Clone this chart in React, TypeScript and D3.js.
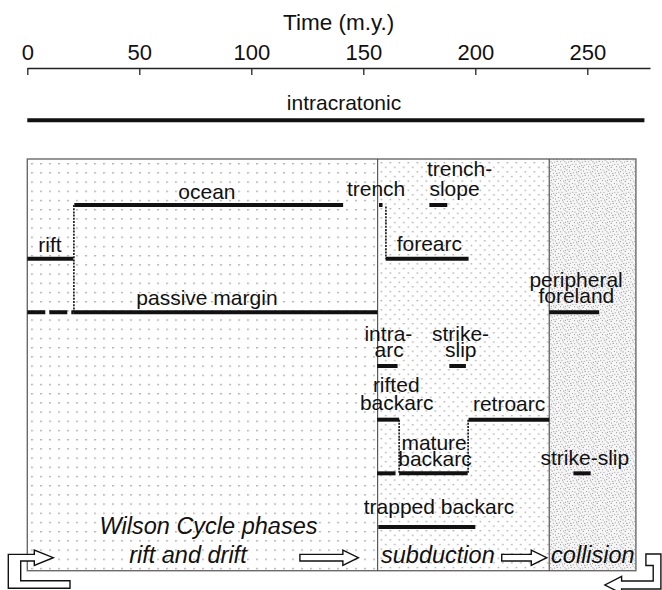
import React, { useRef, useEffect } from "react";
import * as d3 from "d3";

const FONT = "'Liberation Sans', Arial, Helvetica, sans-serif";

// time axis (m.y.)
const tickValues = [0, 50, 100, 150, 200, 250];

// Wilson cycle phase boundaries and names
const phaseBounds = [0, 156.4, 233, 271.7];
const phaseNames = ["rift and drift", "subduction", "collision"];

// tectonic settings: [name, start, end, row, dashed]
const segments: [string, number, number, number, boolean][] = [
  ["intracratonic", 0, 275.5, -1.58, false],
  ["ocean", 21, 141, 0, false],
  ["trench", 157, 158.6, 0, false],
  ["trench-slope", 179.5, 187.5, 0, false],
  ["rift", 0, 20.5, 1, false],
  ["forearc", 160, 197, 1, false],
  ["passive margin (early)", 0, 20.5, 2, true],
  ["passive margin", 20.5, 156.4, 2, false],
  ["peripheral foreland", 233, 255.3, 2, false],
  ["intra-arc", 156.2, 165.3, 3, false],
  ["strike-slip", 188.4, 195.8, 3, false],
  ["rifted backarc", 156.2, 166, 4, false],
  ["retroarc", 197, 233, 4, false],
  ["mature backarc (early)", 156.2, 164.4, 5, false],
  ["mature backarc", 166, 196.6, 5, false],
  ["strike-slip (collision)", 243.8, 251.5, 5, false],
  ["trapped backarc", 156.7, 200, 6, false],
];

// dotted transitions: [time, fromRow, toRow]
const transitions: [number, number, number][] = [
  [20.8, 0, 2],
  [160.1, 0.03, 1],
  [166, 4, 5],
  [196.8, 4, 5],
];

// labels: [text, time, baseline px, anchor]
const labels: [string, number, number, string][] = [
  ["intracratonic", 141.4, 110, "middle"],
  ["ocean", 80.2, 199, "middle"],
  ["trench", 155.7, 195.5, "middle"],
  ["trench-", 178.4, 176, "start"],
  ["slope", 179.5, 195.5, "start"],
  ["rift", 10.1, 251.5, "middle"],
  ["forearc", 164.9, 251, "start"],
  ["passive margin", 80.2, 305, "middle"],
  ["peripheral", 245, 287.3, "middle"],
  ["foreland", 245.1, 303.3, "middle"],
  ["intra-", 161.2, 340.7, "middle"],
  ["arc", 161.5, 357.3, "middle"],
  ["strike-", 193.4, 340.7, "middle"],
  ["slip", 193.5, 357.3, "middle"],
  ["rifted", 164.7, 392.3, "middle"],
  ["backarc", 164.9, 410, "middle"],
  ["retroarc", 215.1, 410.7, "middle"],
  ["mature", 181.6, 450, "middle"],
  ["backarc", 182, 465.7, "middle"],
  ["strike-slip", 248.9, 465, "middle"],
  ["trapped backarc", 183.8, 514, "middle"],
];

const phaseLabels: [string, number, number][] = [
  ["Wilson Cycle phases", 80.9, 534],
  ["rift and drift", 71.7, 563.3],
  ["subduction", 183.3, 563.3],
  ["collision", 252.5, 563.3],
];

// phase arrows: [fromTime, toTime]
const phaseArrows: [number, number][] = [
  [121.7, 147.8],
  [211.8, 231.9],
];

const collisionDots = [
  [1, 2], [5, 0.8], [9.5, 3], [3.2, 6], [7.4, 5.2], [11.2, 7.4], [2, 10.2],
  [6.2, 9.1], [10.3, 11.3], [4.6, 3.6], [0.6, 7.8], [8.6, 8], [12.4, 1.5],
  [5.5, 12.2], [12.8, 10.2], [3.7, 13], [9.2, 13.4], [7, 1.9], [2.6, 4.1],
  [10.8, 5.4], [13.3, 4.7], [0.4, 12.6], [7.8, 11.6], [4.9, 7.7],
];

const WilsonChart = () => {
  const svgRef = useRef<SVGSVGElement>(null);

  useEffect(() => {
    document.body.style.margin = "0";
    const width = 662;
    const height = 590;

    const svg = d3.select(svgRef.current).attr("width", width).attr("height", height);
    svg.selectAll("*").remove();

    const x = d3.scaleLinear().domain([0, 278]).range([27.3, 27.3 + 2.24 * 278]);
    const y = d3.scaleLinear().domain([0, 6]).range([205, 527]);
    const boxTop = 159;
    const boxBottom = 570.7;

    svg.append("rect").attr("width", width).attr("height", height).attr("fill", "#fff");

    // patterns
    const defs = svg.append("defs");
    const p1 = defs.append("pattern").attr("id", "pRift").attr("patternUnits", "userSpaceOnUse")
      .attr("width", 9).attr("height", 9.2).attr("x", x(0) + 4).attr("y", boxTop + 4);
    p1.append("rect").attr("width", 1.4).attr("height", 1.4).attr("fill", "#8e8e8e");

    const p2 = defs.append("pattern").attr("id", "pSub").attr("patternUnits", "userSpaceOnUse")
      .attr("width", 9).attr("height", 9.2).attr("x", x(phaseBounds[1]) + 3).attr("y", boxTop + 3);
    p2.append("rect").attr("width", 1.3).attr("height", 1.3).attr("fill", "#979797");
    p2.append("rect").attr("x", 4.5).attr("y", 4.6).attr("width", 1.3).attr("height", 1.3).attr("fill", "#979797");

    const p3 = defs.append("pattern").attr("id", "pCol").attr("patternUnits", "userSpaceOnUse")
      .attr("width", 14).attr("height", 14);
    p3.append("rect").attr("width", 14).attr("height", 14).attr("fill", "#f6f6f6");
    p3.selectAll("circle").data(collisionDots).join("circle")
      .attr("cx", (d) => d[0]).attr("cy", (d) => d[1]).attr("r", 0.55).attr("fill", "#8a8a8a");

    const fills = ["url(#pRift)", "url(#pSub)", "url(#pCol)"];
    svg.append("g").selectAll("rect").data(phaseNames).join("rect")
      .attr("x", (d, i) => x(phaseBounds[i]))
      .attr("y", boxTop)
      .attr("width", (d, i) => x(phaseBounds[i + 1]) - x(phaseBounds[i]))
      .attr("height", boxBottom - boxTop)
      .attr("fill", (d, i) => fills[i]);

    // box border and phase boundaries
    svg.append("rect")
      .attr("x", x(phaseBounds[0])).attr("y", boxTop)
      .attr("width", x(phaseBounds[3]) - x(phaseBounds[0])).attr("height", boxBottom - boxTop)
      .attr("fill", "none").attr("stroke", "#6a6a6a").attr("stroke-width", 1.4);
    svg.append("g").selectAll("line").data(phaseBounds.slice(1, 3)).join("line")
      .attr("x1", (d) => x(d)).attr("x2", (d) => x(d))
      .attr("y1", boxTop).attr("y2", boxBottom)
      .attr("stroke", "#4a4a4a").attr("stroke-width", 1.1);

    // axis
    const axis = d3.axisTop(x).tickValues(tickValues).tickSize(-7).tickSizeOuter(0).tickPadding(8);
    svg.append("g").attr("transform", "translate(0,68)").call(axis)
      .call((g) => g.selectAll("text").attr("font-size", 22).attr("font-family", FONT).attr("fill", "#111"))
      .call((g) => g.selectAll("line,path").attr("stroke", "#222").attr("stroke-width", 1.3));

    svg.append("text").attr("x", x(139)).attr("y", 30).attr("text-anchor", "middle")
      .attr("font-family", FONT).attr("font-size", 22.5).attr("fill", "#111").text("Time (m.y.)");

    // transitions
    svg.append("g").selectAll("line").data(transitions).join("line")
      .attr("x1", (d) => x(d[0])).attr("x2", (d) => x(d[0]))
      .attr("y1", (d) => y(d[1])).attr("y2", (d) => y(d[2]))
      .attr("stroke", "#111").attr("stroke-width", 1.6).attr("stroke-dasharray", "2 1.2");

    // segments
    svg.append("g").selectAll("line").data(segments).join("line")
      .attr("x1", (d) => x(d[1])).attr("x2", (d) => x(d[2]))
      .attr("y1", (d) => y(d[3])).attr("y2", (d) => y(d[3]))
      .attr("stroke", "#111").attr("stroke-width", 4)
      .attr("stroke-dasharray", (d) => (d[4] ? "18 4" : null));

    // labels
    svg.append("g").selectAll("text").data(labels).join("text")
      .attr("x", (d) => x(d[1])).attr("y", (d) => d[2])
      .attr("text-anchor", (d) => d[3])
      .attr("font-family", FONT).attr("font-size", 21).attr("fill", "#111")
      .text((d) => d[0]);

    svg.append("g").selectAll("text").data(phaseLabels).join("text")
      .attr("x", (d) => x(d[1])).attr("y", (d) => d[2])
      .attr("text-anchor", "middle").attr("font-style", "italic")
      .attr("font-family", FONT).attr("font-size", 23.5).attr("fill", "#111")
      .text((d) => d[0]);

    // phase arrows (hollow)
    const cy = 557.7;
    const blockArrow = (x0: number, x1: number) => {
      const hs = 3.3, hh = 7.6, hl = 15.5;
      return `M${x0},${cy - hs}H${x1 - hl}V${cy - hh}L${x1},${cy}L${x1 - hl},${cy + hh}V${cy + hs}H${x0}Z`;
    };
    svg.append("g").selectAll("path").data(phaseArrows).join("path")
      .attr("d", (d) => blockArrow(x(d[0]), x(d[1])))
      .attr("fill", "#fff").attr("stroke", "#111").attr("stroke-width", 1.4);

    // cycle return hooks
    const lx = x(0);
    const leftHook = `M${lx + 42.7},588.3H${lx - 19}V554.4H${lx + 7}V550L${lx + 26},${cy}L${lx + 7},565.4V561H${lx - 6.6}V580.7H${lx + 42.7}Z`;
    const rx = x(phaseBounds[3]);
    const cy2 = 585;
    const rightHook = `M${rx + 10},554H${rx + 25}V${cy2 + 4}H${rx - 14.3}V${cy2 + 8.5}L${rx - 31},${cy2}L${rx - 14.3},${cy2 - 8.5}V${cy2 - 4}H${rx + 17.3}V565.5H${rx + 10}Z`;
    svg.append("g").selectAll("path").data([leftHook, rightHook]).join("path")
      .attr("d", (d) => d)
      .attr("fill", "#fff").attr("stroke", "#111").attr("stroke-width", 1.4);
  }, []);

  return <svg ref={svgRef} style={{ display: "block" }}></svg>;
};

export default function App() {
  return <WilsonChart />;
}
